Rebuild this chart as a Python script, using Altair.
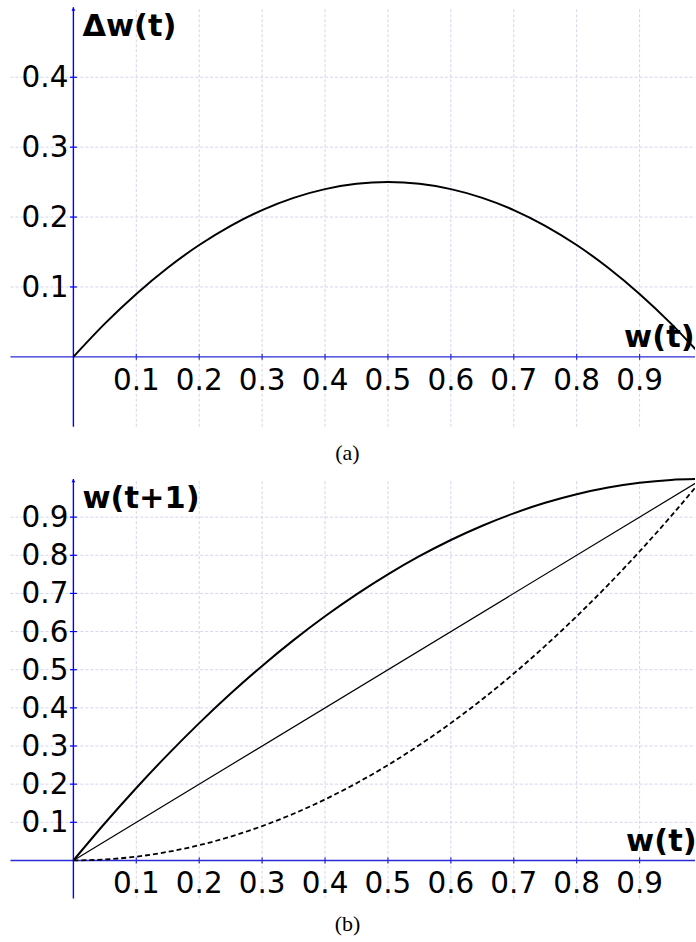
import altair as alt
import pandas as pd

# Sample points along w(t)
w_pts = [0.0, 0.05, 0.1, 0.15, 0.2, 0.25, 0.3, 0.35, 0.4, 0.45, 0.5,
         0.55, 0.6, 0.65, 0.7, 0.75, 0.8, 0.85, 0.9, 0.95, 1.0]
# (a) change of weight per step
delta_w = [0.0, 0.0475, 0.09, 0.1275, 0.16, 0.1875, 0.21, 0.2275, 0.24, 0.2475, 0.25,
           0.2475, 0.24, 0.2275, 0.21, 0.1875, 0.16, 0.1275, 0.09, 0.0475, 0.0]
# (b) next weight: upper curve, diagonal, lower dashed curve
next_upper = [0.0, 0.0975, 0.19, 0.2775, 0.36, 0.4375, 0.51, 0.5775, 0.64, 0.6975, 0.75,
              0.7975, 0.84, 0.8775, 0.91, 0.9375, 0.96, 0.9775, 0.99, 0.9975, 1.0]
diag_w = [0.0, 1.0]
diag_next = [0.0, 1.0]
next_lower = [0.0, 0.0025, 0.01, 0.0225, 0.04, 0.0625, 0.09, 0.1225, 0.16, 0.2025, 0.25,
              0.3025, 0.36, 0.4225, 0.49, 0.5625, 0.64, 0.7225, 0.81, 0.9025, 1.0]

x_ticks = [0.1, 0.2, 0.3, 0.4, 0.5, 0.6, 0.7, 0.8, 0.9]
x_tick_labels = ["0.1", "0.2", "0.3", "0.4", "0.5", "0.6", "0.7", "0.8", "0.9"]
y_ticks_a = [0.1, 0.2, 0.3, 0.4]
y_tick_labels_a = ["0.1", "0.2", "0.3", "0.4"]
y_ticks_b = [0.1, 0.2, 0.3, 0.4, 0.5, 0.6, 0.7, 0.8, 0.9]
y_tick_labels_b = ["0.1", "0.2", "0.3", "0.4", "0.5", "0.6", "0.7", "0.8", "0.9"]

W = 696
X_DOM = [-0.11667, 0.98810]
GRID = "#d4d4f0"
XAXIS_C = "#2b2bd6"
YAXIS_C = "#0000ff"
FONT = "DejaVu Sans"
LBL = 29.5
TTL = 30.5


def panel(height, y_dom, y_top, y_ticks, y_labels, curves, ytitle, ytitle_dy,
          xtitle_x, xtitle_dy, caption, caption_y):
    X = alt.Scale(domain=X_DOM, nice=False, zero=False)
    Y = alt.Scale(domain=y_dom, nice=False, zero=False)

    def xe(f):
        return alt.X(f, scale=X, axis=None)

    def ye(f):
        return alt.Y(f, scale=Y, axis=None)

    vgrid = alt.Chart(pd.DataFrame({"g": x_ticks, "lo": -0.1, "hi": y_top})).mark_rule(
        color=GRID, strokeDash=[3, 2], strokeWidth=1
    ).encode(x=xe("g:Q"), y=ye("lo:Q"), y2="hi:Q")

    hgrid = alt.Chart(pd.DataFrame({"g": y_ticks, "lo": -0.1, "hi": X_DOM[1]})).mark_rule(
        color=GRID, strokeDash=[3, 2], strokeWidth=1
    ).encode(y=ye("g:Q"), x=xe("lo:Q"), x2="hi:Q")

    xaxis = alt.Chart(pd.DataFrame({"y": [0.0], "lo": [-0.1], "hi": [X_DOM[1]]})).mark_rule(
        color=XAXIS_C, strokeWidth=1.4
    ).encode(y=ye("y:Q"), x=xe("lo:Q"), x2="hi:Q")

    yaxis = alt.Chart(pd.DataFrame({"x": [0.0], "lo": [-0.1], "hi": [y_top]})).mark_rule(
        color=YAXIS_C, strokeWidth=1.4
    ).encode(x=xe("x:Q"), y=ye("lo:Q"), y2="hi:Q")

    arrow = alt.Chart(pd.DataFrame({"x": [0.0], "y": [y_top]})).mark_point(
        shape="M-1,1.8L0,0L1,1.8Z", filled=True, color=YAXIS_C, size=14, opacity=1
    ).encode(x=xe("x:Q"), y=ye("y:Q"))

    xt = alt.Chart(pd.DataFrame({"t": x_ticks, "z": 0.0})).mark_tick(
        orient="vertical", size=6, thickness=1.2, color=XAXIS_C, opacity=1
    ).encode(x=xe("t:Q"), y=ye("z:Q"))

    yt = alt.Chart(pd.DataFrame({"t": y_ticks, "z": 0.0})).mark_tick(
        orient="horizontal", size=7, thickness=1.2, color=YAXIS_C, opacity=1
    ).encode(y=ye("t:Q"), x=xe("z:Q"))

    xl = alt.Chart(pd.DataFrame({"t": x_ticks, "lab": x_tick_labels, "z": 0.0})).mark_text(
        font=FONT, fontSize=LBL, color="black", align="center", baseline="alphabetic", dy=33
    ).encode(x=xe("t:Q"), y=ye("z:Q"), text="lab:N")

    yl = alt.Chart(pd.DataFrame({"t": y_ticks, "lab": y_labels, "z": 0.0})).mark_text(
        font=FONT, fontSize=LBL, color="black", align="right", baseline="middle", dx=-5, dy=1
    ).encode(y=ye("t:Q"), x=xe("z:Q"), text="lab:N")

    ytl = alt.Chart(pd.DataFrame({"x": [0.0], "y": [y_top], "lab": [ytitle]})).mark_text(
        font=FONT, fontSize=TTL, fontWeight="bold", color="black", align="left",
        baseline="alphabetic", dx=9, dy=ytitle_dy
    ).encode(x=xe("x:Q"), y=ye("y:Q"), text="lab:N")

    xtl = alt.Chart(pd.DataFrame({"x": [xtitle_x], "y": [0.0], "lab": ["w(t)"]})).mark_text(
        font=FONT, fontSize=TTL, fontWeight="bold", color="black", align="left",
        baseline="alphabetic", dy=xtitle_dy, clip=True
    ).encode(x=xe("x:Q"), y=ye("y:Q"), text="lab:N")

    cap = alt.Chart(pd.DataFrame({"lab": [caption]})).mark_text(
        font="Liberation Serif", fontSize=22, color="black", align="center", baseline="middle"
    ).encode(x=alt.value(348), y=alt.value(caption_y), text="lab:N")

    layers = [vgrid, hgrid, xaxis, yaxis, arrow, xt, yt]
    for df, style in curves:
        layers.append(
            alt.Chart(df).mark_line(clip=True, color="black", interpolate="monotone", **style)
            .encode(x=xe("w:Q"), y=ye("v:Q"))
        )
    layers += [xl, yl, ytl, xtl, cap]
    return alt.layer(*layers).properties(width=W, height=height)


curves_a = [(pd.DataFrame({"w": w_pts, "v": delta_w}), {"strokeWidth": 2})]
curves_b = [
    (pd.DataFrame({"w": w_pts, "v": next_upper}), {"strokeWidth": 2}),
    (pd.DataFrame({"w": diag_w, "v": diag_next}), {"strokeWidth": 1.2}),
    (pd.DataFrame({"w": w_pts, "v": next_lower}), {"strokeWidth": 1.8, "strokeDash": [5, 3]}),
]

panel_a = panel(470, [-0.16186, 0.50957], 0.5, y_ticks_a, y_tick_labels_a, curves_a,
                "Δw(t)", 28.5, 0.8754, -10, "(a)", 453)
panel_b = panel(472, [-0.21204, 1.02356], 1.0, y_ticks_b, y_tick_labels_b, curves_b,
                "w(t+1)", 29, 0.8786, -9, "(b)", 455)

chart = alt.vconcat(panel_a, panel_b, spacing=0, bounds="flush").configure(
    padding=0, background="white"
).configure_view(stroke=None)

chart.save("out.html", embed_options={"renderer": "svg", "actions": False})
